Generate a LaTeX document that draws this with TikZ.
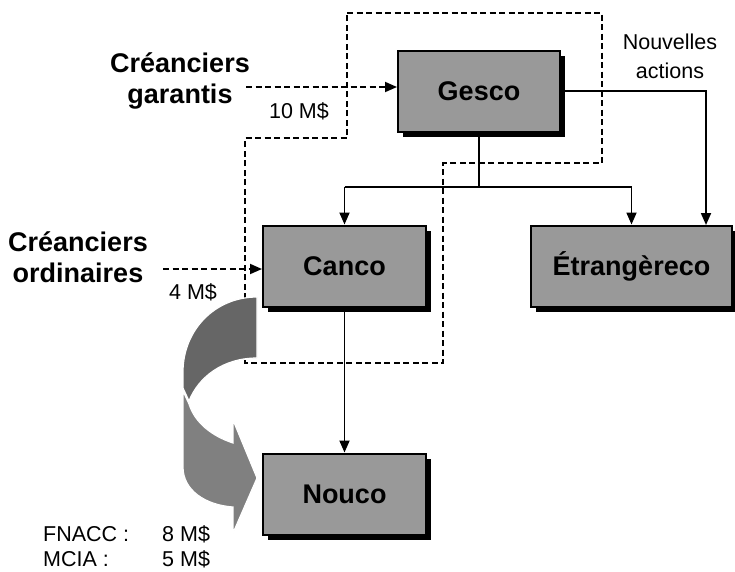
\documentclass[tikz,border=0pt]{standalone}
\usepackage{fontspec}
\setmainfont{Liberation Sans}
\usetikzlibrary{arrows.meta,shadows}
\definecolor{boxgray}{RGB}{153,153,153}
\definecolor{darkribbon}{RGB}{102,102,102}
\definecolor{lightribbon}{RGB}{128,128,128}
\tikzset{
  entity/.style={draw=black, line width=2pt, fill=boxgray, inner sep=0pt,
    minimum height=81pt, text height=19.3pt, text depth=0pt,
    font=\fontsize{27}{30}\selectfont\bfseries,
    drop shadow={shadow xshift=5pt, shadow yshift=-5pt, fill=black, opacity=1}},
  link/.style={line width=1.8pt, -{Triangle[length=12pt,width=10pt]}},
  plainlink/.style={line width=1.8pt},
  dashlink/.style={line width=1.8pt, dash pattern=on 6pt off 3.5pt},
  bigtext/.style={font=\fontsize{27}{31}\selectfont\bfseries, align=center, inner sep=0pt},
  smalltext/.style={font=\fontsize{21.5}{29}\selectfont, inner sep=0pt},
}
\begin{document}
\begin{tikzpicture}[x=1pt,y=-1pt]
\useasboundingbox (0,0) rectangle (735,571);

% dashed perimeter
\draw[dashlink] (347,13) -- (602,13) -- (602,163) -- (443,163) -- (443,363)
  -- (245,363) -- (245,138) -- (347,138) -- cycle;

% boxes
\node[entity, minimum width=162pt] (gesco) at (479,91) {Gesco};
\node[entity, minimum width=163pt] (canco) at (344.5,266) {Canco};
\node[entity, minimum width=201pt] (etr) at (631.5,266) {Étrangèreco};
\node[entity, minimum width=163pt] (nouco) at (344.5,494) {Nouco};

% solid connectors
\coordinate (jl) at (344.5,187);
\coordinate (jr) at (631.5,187);
\coordinate (e2) at (706,225);
\draw[plainlink] (gesco.south) -- (gesco.south |- jl);
\draw[plainlink] (jl) -- (jr);
\draw[link] (jl) -- (canco.north);
\draw[link] (jr) -- (etr.north);
\draw[link] (gesco.east) -| (e2);
\draw[link] (canco.south) -- (nouco.north);

% dashed arrows from creditors
\coordinate (cg) at (246,87);
\coordinate (co) at (163,269);
\draw[dashlink, -{Triangle[length=12pt,width=10pt]}] (cg) -- (cg -| gesco.west);
\draw[dashlink, -{Triangle[length=12pt,width=10pt]}] (co) -- (co -| canco.west);

% curved ribbon arrow
\draw[draw=white, line width=1.2pt, fill=darkribbon]
  (257,297) .. controls (215,297) and (183,330) .. (183,372) -- (183,388)
  -- (189,401) .. controls (198,378) and (222,358) .. (257,358) -- cycle;
\draw[draw=white, line width=1.2pt, fill=lightribbon]
  (183,391) -- (183,467) .. controls (183,490) and (205,505) .. (233,507)
  -- (233,533) -- (257,478) -- (233,420) -- (233,443)
  .. controls (212,436) and (195,423) .. (189,404) -- cycle;

% texts
\node[bigtext, anchor=base] (t1) at (180,103) {Créanciers\\garantis};
\node[bigtext, anchor=base] (t2) at (78,282) {Créanciers\\ordinaires};
\node[smalltext, anchor=base] (t3) at (299,118) {10 M\$};
\node[smalltext, anchor=base] (t4) at (193,299) {4 M\$};
\node[smalltext, anchor=base, align=center] (t5) at (670,78) {Nouvelles\\actions};
\node[smalltext, anchor=base west] (t6) at (43,541) {FNACC :};
\node[smalltext, anchor=base west] (t7) at (162,541) {8 M\$};
\node[smalltext, anchor=base west] (t8) at (43,566) {MCIA :};
\node[smalltext, anchor=base west] (t9) at (162,566) {5 M\$};
\end{tikzpicture}
\end{document}
